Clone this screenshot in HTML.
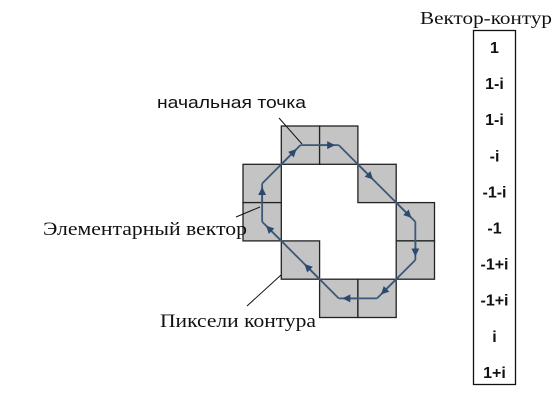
<!DOCTYPE html>
<html><head><meta charset="utf-8"><style>
body{margin:0;background:#fff;width:560px;height:404px;overflow:hidden}
svg{display:block}
.sans{font-family:"Liberation Sans","DejaVu Sans",sans-serif}
.serif{font-family:"Liberation Serif",serif}
</style></head><body>
<svg id="c" width="560" height="404" viewBox="0 0 560 404">
<defs><marker id="ah" markerWidth="8" markerHeight="8" refX="7" refY="4" orient="auto" markerUnits="userSpaceOnUse"><path d="M0,0 L8,4 L0,8 Z" fill="#2c4a70"/></marker></defs>
<g id="cells"></g>
<g id="path"></g>
<text class="sans" x="157" y="108" font-size="17" textLength="149" lengthAdjust="spacingAndGlyphs" fill="#111">начальная точка</text>
<line x1="279" y1="118" x2="302" y2="144" stroke="#111" stroke-width="1"/>
<text class="serif" x="43" y="235" font-size="19" textLength="204" lengthAdjust="spacingAndGlyphs" fill="#111">Элементарный вектор</text>
<line x1="236" y1="217" x2="260" y2="207" stroke="#111" stroke-width="1"/>
<text class="serif" x="160" y="327" font-size="19" textLength="156" lengthAdjust="spacingAndGlyphs" fill="#111">Пиксели контура</text>
<line x1="281" y1="275" x2="247" y2="306" stroke="#111" stroke-width="1"/>
<text class="serif" x="420" y="24" font-size="18" textLength="132" lengthAdjust="spacingAndGlyphs" fill="#111">Вектор-контур</text>
<rect x="473.5" y="30.5" width="42" height="354" fill="none" stroke="#111" stroke-width="1.3"/>
<g id="codes"></g>
</svg>
<script>
const cellCols=[1,2,0,3,0,4,4,1,2,3];
const cellRows=[0,0,1,1,2,2,3,3,4,4];
const pathCols=[1,2,3,4,4,3,2,1,0,0,1];
const pathRows=[0,0,1,2,3,4,4,3,2,1,0];
const codes=["1","1-i","1-i","-i","-1-i","-1","-1+i","-1+i","i","1+i"];
const NS="http://www.w3.org/2000/svg";
const X0=243,Y0=126,S=38.3;
const gx=c=>X0+c*S, gy=r=>Y0+r*S;
const cg=document.getElementById('cells');
for(let i=0;i<cellCols.length;i++){
  const r=document.createElementNS(NS,'rect');
  r.setAttribute('x',gx(cellCols[i]));r.setAttribute('y',gy(cellRows[i]));
  r.setAttribute('width',S);r.setAttribute('height',S);
  r.setAttribute('fill','#c4c4c4');r.setAttribute('stroke','#222');r.setAttribute('stroke-width','1.3');
  
  
  cg.appendChild(r);
}
const pg=document.getElementById('path');
for(let i=0;i<pathCols.length-1;i++){
  const x1=gx(pathCols[i])+S/2,y1=gy(pathRows[i])+S/2,x2=gx(pathCols[i+1])+S/2,y2=gy(pathRows[i+1])+S/2;
  const l=document.createElementNS(NS,'line');
  l.setAttribute('x1',x1);l.setAttribute('y1',y1);l.setAttribute('x2',x2);l.setAttribute('y2',y2);
  l.setAttribute('stroke','#3b5878');l.setAttribute('stroke-width','1.8');
  
  
  pg.appendChild(l);
  const a=document.createElementNS(NS,'line');
  a.setAttribute('x1',x1+(x2-x1)*0.5);a.setAttribute('y1',y1+(y2-y1)*0.5);
  a.setAttribute('x2',x1+(x2-x1)*0.88);a.setAttribute('y2',y1+(y2-y1)*0.88);
  a.setAttribute('stroke','#3b5878');a.setAttribute('stroke-width','1.8');a.setAttribute('marker-end','url(#ah)');
  
  
  pg.appendChild(a);
}
const kg=document.getElementById('codes');
codes.forEach((c,i)=>{
  const t=document.createElementNS(NS,'text');
  t.setAttribute('x',494.5);t.setAttribute('y',53+i*36.1);
  t.setAttribute('text-anchor','middle');t.setAttribute('font-size','16');t.setAttribute('font-weight','bold');
  t.setAttribute('class','sans');t.setAttribute('fill','#111');
  t.textContent=c;
  
  
  kg.appendChild(t);
});
</script>
</body></html>
